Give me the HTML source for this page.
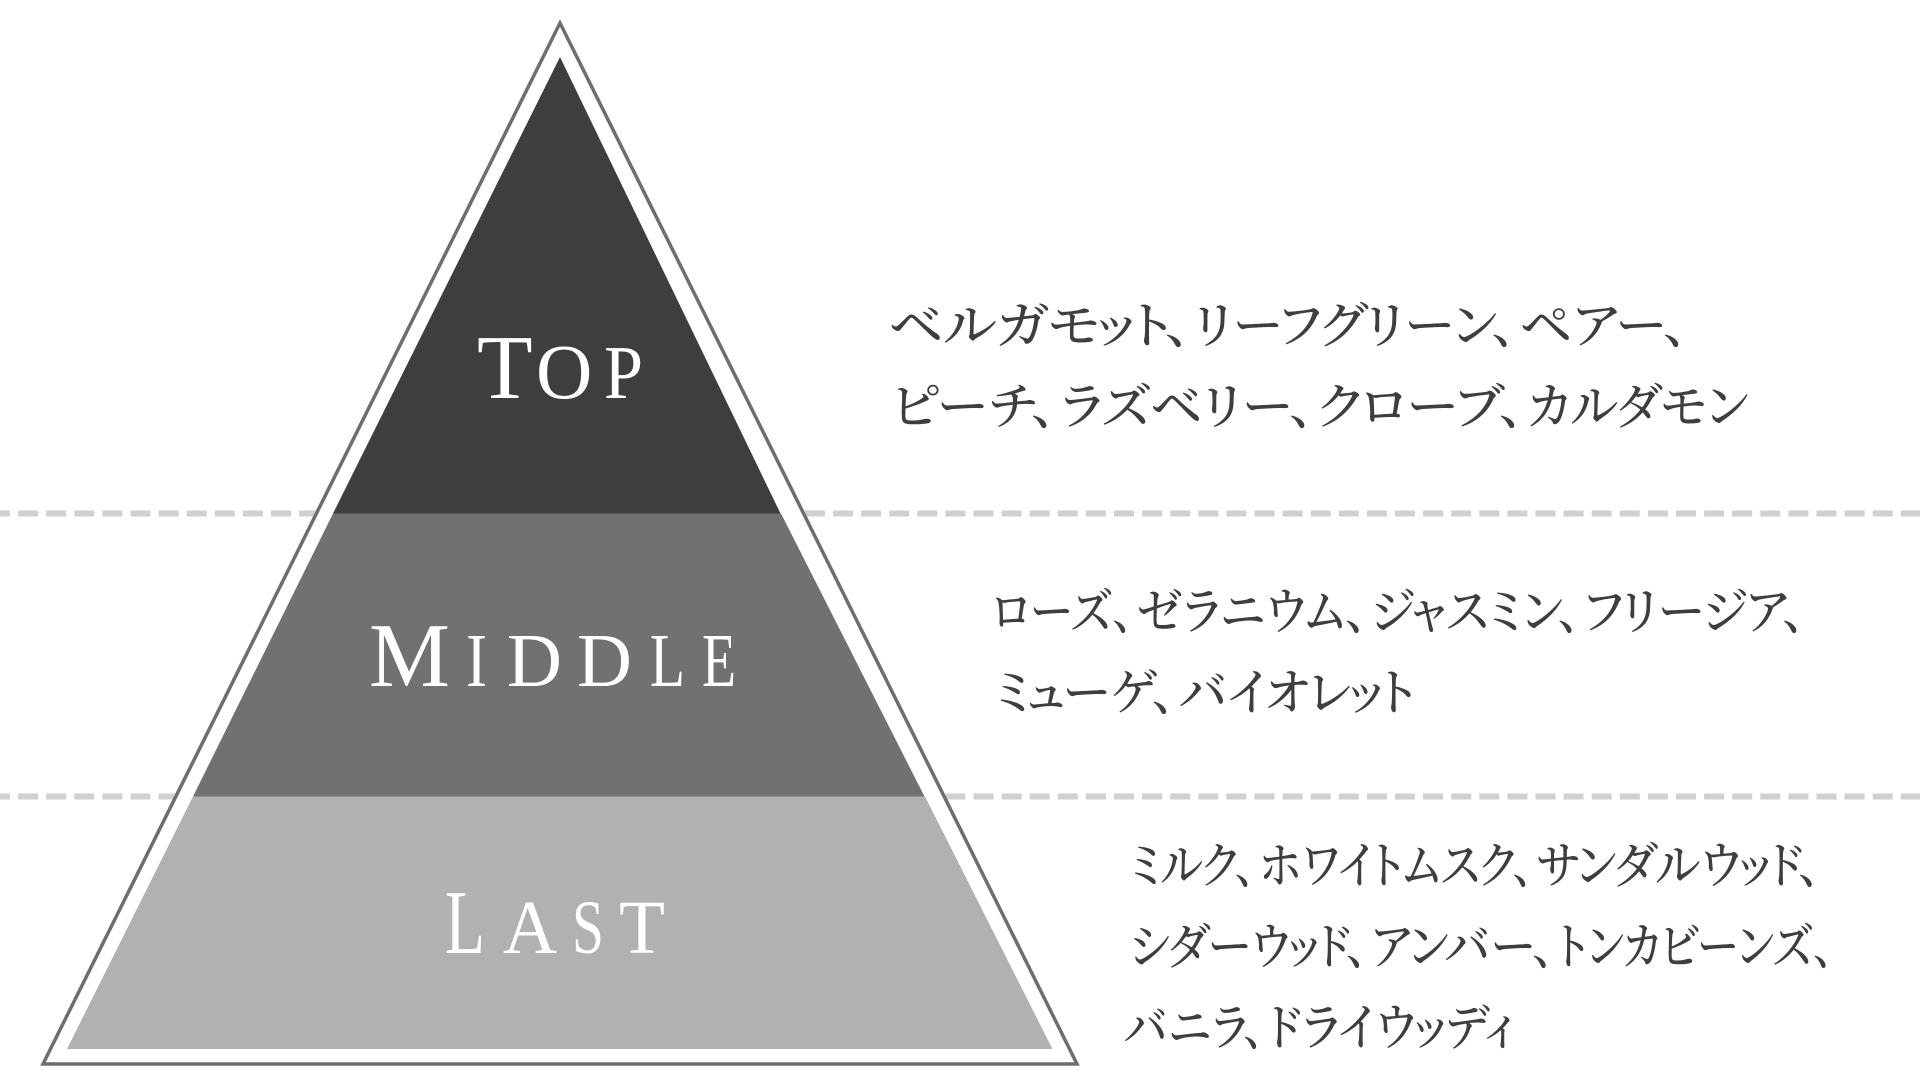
<!DOCTYPE html>
<html lang="ja">
<head>
<meta charset="utf-8">
<title>Fragrance pyramid</title>
<style>
html,body{margin:0;padding:0;background:#fff;width:1920px;height:1080px;overflow:hidden}
svg{display:block}
.jp{font-family:"Liberation Serif","Noto Serif CJK SC","Noto Serif CJK JP",serif;font-size:50px;fill:#3e3e40;font-weight:500;font-feature-settings:"palt";}
.la{font-family:"Liberation Serif",serif;fill:#fff;}
</style>
</head>
<body>
<svg width="1920" height="1080" viewBox="0 0 1920 1080" xmlns="http://www.w3.org/2000/svg">
<rect width="1920" height="1080" fill="#fff"/>
<line x1="-10" y1="513.5" x2="1920" y2="513.5" stroke="#d0d0d0" stroke-width="6" stroke-dasharray="20 8.1"/>
<line x1="-10" y1="796.5" x2="1920" y2="796.5" stroke="#d0d0d0" stroke-width="6" stroke-dasharray="20 8.1"/>
<polygon points="560,23 43,1064 1077,1064" fill="#fff" stroke="#6e6e6e" stroke-width="3.5"/>
<polygon points="560,57 333,513.5 780.5,513.5" fill="#3e3e40"/>
<polygon points="333,513.5 781,513.5 924.5,796.5 193,796.5" fill="#717171"/>
<polygon points="193,796.5 925,796.5 1052.5,1049 67,1049" fill="#b1b1b1"/>

<text class="la"><tspan x="477" y="398" font-size="91">T</tspan><tspan x="536" y="398" font-size="78">O</tspan><tspan x="604" y="398" font-size="76" textLength="39" lengthAdjust="spacingAndGlyphs">P</tspan></text>

<text class="la"><tspan x="369" y="686" font-size="91">M</tspan><tspan x="466" y="686" font-size="76" textLength="21" lengthAdjust="spacingAndGlyphs">I</tspan><tspan x="507" y="686" font-size="76">D</tspan><tspan x="577" y="686" font-size="76">D</tspan><tspan x="650" y="686" font-size="76" textLength="35" lengthAdjust="spacingAndGlyphs">L</tspan><tspan x="702" y="686" font-size="76" textLength="34" lengthAdjust="spacingAndGlyphs">E</tspan></text>

<text class="la"><tspan x="445" y="953" font-size="91" textLength="40" lengthAdjust="spacingAndGlyphs">L</tspan><tspan x="503" y="953" font-size="76" textLength="54" lengthAdjust="spacingAndGlyphs">A</tspan><tspan x="572" y="953" font-size="76" textLength="32" lengthAdjust="spacingAndGlyphs">S</tspan><tspan x="619" y="953" font-size="76" textLength="46" lengthAdjust="spacingAndGlyphs">T</tspan></text>

<text class="jp" y="343"><tspan x="889" textLength="304" lengthAdjust="spacingAndGlyphs">ベルガモット、</tspan><tspan x="1194" textLength="324" lengthAdjust="spacingAndGlyphs">リーフグリーン、</tspan><tspan x="1520" textLength="170" lengthAdjust="spacingAndGlyphs">ペアー、</tspan></text>
<text class="jp" y="424"><tspan x="892" textLength="166" lengthAdjust="spacingAndGlyphs">ピーチ、</tspan><tspan x="1060" textLength="256" lengthAdjust="spacingAndGlyphs">ラズベリー、</tspan><tspan x="1318" textLength="208" lengthAdjust="spacingAndGlyphs">クローブ、</tspan><tspan x="1528" textLength="220" lengthAdjust="spacingAndGlyphs">カルダモン</tspan></text>

<text class="jp" y="629"><tspan x="992" textLength="143" lengthAdjust="spacingAndGlyphs">ローズ、</tspan><tspan x="1137" textLength="232" lengthAdjust="spacingAndGlyphs">ゼラニウム、</tspan><tspan x="1371" textLength="211" lengthAdjust="spacingAndGlyphs">ジャスミン、</tspan><tspan x="1584" textLength="223" lengthAdjust="spacingAndGlyphs">フリージア、</tspan></text>
<text class="jp" y="710"><tspan x="995" textLength="182" lengthAdjust="spacingAndGlyphs">ミューゲ、</tspan><tspan x="1179" textLength="236" lengthAdjust="spacingAndGlyphs">バイオレット</tspan></text>

<text class="jp" y="883"><tspan x="1130" textLength="127" lengthAdjust="spacingAndGlyphs">ミルク、</tspan><tspan x="1259" textLength="276" lengthAdjust="spacingAndGlyphs">ホワイトムスク、</tspan><tspan x="1537" textLength="285" lengthAdjust="spacingAndGlyphs">サンダルウッド、</tspan></text>
<text class="jp" y="964"><tspan x="1130" textLength="239" lengthAdjust="spacingAndGlyphs">シダーウッド、</tspan><tspan x="1371" textLength="185" lengthAdjust="spacingAndGlyphs">アンバー、</tspan><tspan x="1558" textLength="277" lengthAdjust="spacingAndGlyphs">トンカビーンズ、</tspan></text>
<text class="jp" y="1045"><tspan x="1124" textLength="142" lengthAdjust="spacingAndGlyphs">バニラ、</tspan><tspan x="1268" textLength="247" lengthAdjust="spacingAndGlyphs">ドライウッディ</tspan></text>
</svg>
</body>
</html>
